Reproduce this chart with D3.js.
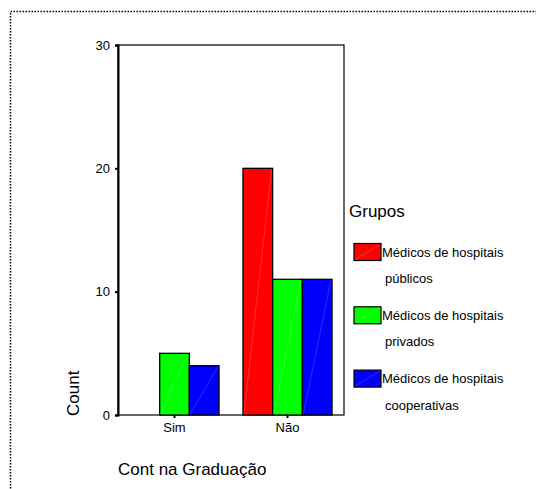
<!DOCTYPE html>
<html>
<head>
<meta charset="utf-8">
<script src="https://cdn.jsdelivr.net/npm/d3@7"></script>
<style>
  body { margin: 0; background: #fff; }
  svg { font-family: "Liberation Sans", Arial, sans-serif; }
</style>
</head>
<body>
<div id="container"></div>
<script>
// data
const categories = ['Sim', 'Não'];
const seriesNames = ['Médicos de hospitais públicos', 'Médicos de hospitais privados', 'Médicos de hospitais cooperativas'];
const legendLines = [['Médicos de hospitais', 'públicos'], ['Médicos de hospitais', 'privados'], ['Médicos de hospitais', 'cooperativas']];
const publicos = [0, 20];
const privados = [5, 11];
const cooperativas = [4, 11];
const yTicks = [0, 10, 20, 30];
const colors = ['#ff0000', '#00ff00', '#0000ff'];

const W = 536, H = 489;
const plot = { left: 118, right: 344, top: 45, bottom: 415 };

const svg = d3.select('#container')
    .append('svg')
    .attr('width', W)
    .attr('height', H);

// dotted frame around everything
svg.append('rect')
    .attr('x', 10.5)
    .attr('y', 11.5)
    .attr('width', W + 20)
    .attr('height', H + 20)
    .attr('fill', 'none')
    .attr('stroke', '#000')
    .attr('stroke-width', 1.5)
    .attr('stroke-dasharray', '1.5,1.5');

const series = [publicos, privados, cooperativas];

var xScale = d3.scaleBand()
    .domain(categories)
    .range([plot.left, plot.right])
    .paddingInner(0.212)
    .paddingOuter(0.106);

var xInner = d3.scaleBand()
    .domain(d3.range(series.length))
    .range([0, xScale.bandwidth()]);

var yScale = d3.scaleLinear()
    .domain([0, 30])
    .range([plot.bottom, plot.top]);

// plot box
svg.append('rect')
    .attr('x', plot.left)
    .attr('y', plot.top)
    .attr('width', plot.right - plot.left)
    .attr('height', plot.bottom - plot.top)
    .attr('fill', 'none')
    .attr('stroke', '#000')
    .attr('stroke-width', 1.2);

var bars = [];
series.forEach(function (vals, si) {
    vals.forEach(function (v, ci) {
        bars.push({ s: si, c: categories[ci], v: v });
    });
});

var barG = svg.selectAll('.bar')
    .data(bars)
    .enter()
    .append('g')
    .attr('class', 'bar');

barG.append('rect')
    .attr('x', function (d) { return xScale(d.c) + xInner(d.s); })
    .attr('y', function (d) { return yScale(d.v); })
    .attr('width', xInner.bandwidth())
    .attr('height', function (d) { return yScale(0) - yScale(d.v); })
    .attr('fill', function (d) { return colors[d.s]; })
    .attr('stroke', '#000')
    .attr('stroke-width', 1.3);

// faint diagonal like the original export
barG.filter(function (d) { return d.v > 0; })
    .append('line')
    .attr('x1', function (d) { return xScale(d.c) + xInner(d.s) + 1; })
    .attr('y1', function (d) { return yScale(0) - 1; })
    .attr('x2', function (d) { return xScale(d.c) + xInner(d.s) + xInner.bandwidth() - 1; })
    .attr('y2', function (d) { return yScale(d.v) + 1; })
    .attr('stroke', '#fff')
    .attr('stroke-opacity', 0.25)
    .attr('stroke-width', 0.7);

var yAxis = d3.axisLeft(yScale).tickValues(yTicks).tickSize(3).tickPadding(5);
var xAxis = d3.axisBottom(xScale).tickSize(3).tickPadding(5);

var gy = svg.append('g')
    .attr('transform', 'translate(' + plot.left + ',0)')
    .call(yAxis);
gy.select('.domain').attr('stroke-width', 2);

var gx = svg.append('g')
    .attr('transform', 'translate(0,' + plot.bottom + ')')
    .call(xAxis);
gx.select('.domain').remove();

svg.selectAll('.tick text')
    .style('font-family', '"Liberation Sans", Arial, sans-serif')
    .style('font-size', '13px')
    .attr('fill', '#000');
svg.selectAll('.tick line').attr('stroke-width', 2);

svg.append('text')
    .attr('transform', 'translate(79,416) rotate(-90)')
    .style('font-size', '17px')
    .text('Count');

svg.append('text')
    .attr('x', 118)
    .attr('y', 475)
    .style('font-size', '17px')
    .text('Cont na Graduação');

// legend
var legend = svg.append('g').attr('id', 'legend');

legend.append('text')
    .attr('x', 349)
    .attr('y', 217)
    .style('font-size', '17px')
    .text('Grupos');

var item = legend.selectAll('.legend-item')
    .data(seriesNames)
    .enter()
    .append('g')
    .attr('class', 'legend-item')
    .attr('transform', function (d, i) { return 'translate(354,' + (243.5 + i * 63.3) + ')'; });

item.append('rect')
    .attr('width', 27)
    .attr('height', 17)
    .attr('fill', function (d, i) { return colors[i]; })
    .attr('stroke', '#000')
    .attr('stroke-width', 1.2);

item.append('line')
    .attr('x1', 1).attr('y1', 16)
    .attr('x2', 26).attr('y2', 1)
    .attr('stroke', '#fff')
    .attr('stroke-opacity', 0.25)
    .attr('stroke-width', 0.7);

item.append('text')
    .attr('x', 28)
    .attr('y', 13)
    .style('font-size', '13px')
    .text(function (d, i) { return legendLines[i][0]; });

item.append('text')
    .attr('x', 31)
    .attr('y', 39.5)
    .style('font-size', '13px')
    .text(function (d, i) { return legendLines[i][1]; });
</script>
</body>
</html>
